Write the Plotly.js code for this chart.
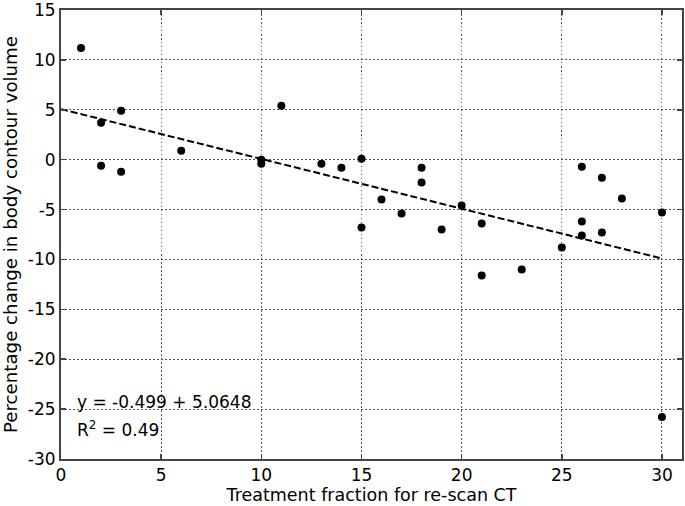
<!DOCTYPE html>
<html>
<head>
<meta charset="utf-8">
<script src="https://cdn.plot.ly/plotly-3.0.1.min.js"></script>
<style>html,body{margin:0;padding:0;background:#fff;}</style>
</head>
<body>
<div id="chart" style="width:685px;height:506px;"></div>
<script>
// Treatment fraction for re-scan CT
const fraction = [1, 2, 2, 3, 3, 6, 10, 10, 11, 13, 14, 15, 15, 16, 17, 18, 18, 19, 20, 21, 21, 23, 25, 26, 26, 26, 27, 27, 28, 30, 30];
// Percentage change in body contour volume
const pctChange = [11.2, 3.7, -0.6, 4.9, -1.2, 0.9, 0.0, -0.4, 5.4, -0.4, -0.8, 0.1, -6.8, -4.0, -5.4, -0.8, -2.3, -7.0, -4.6, -6.4, -11.6, -11.0, -8.8, -0.7, -6.2, -7.6, -1.8, -7.3, -3.9, -5.3, -25.8];
// Linear fit
const fitSlope = -0.499;
const fitIntercept = 5.0648;
const fitRange = [0, 30];
const xTicks = [0, 5, 10, 15, 20, 25, 30];
const yTicks = [-30, -25, -20, -15, -10, -5, 0, 5, 10, 15];

const fitY = fitRange.map(x => fitSlope * x + fitIntercept);

const FONT = 'DejaVu Sans, Arial, sans-serif';

const traces = [
  {
    x: fitRange, y: fitY, type: 'scatter', mode: 'lines',
    line: {color: '#000', width: 2, dash: '7px,3px'},
    hoverinfo: 'skip', showlegend: false
  },
  {
    x: fraction, y: pctChange, type: 'scatter', mode: 'markers',
    marker: {color: '#000', size: 8},
    showlegend: false
  }
];

const axisCommon = {
  showline: true, linecolor: '#444', linewidth: 2, mirror: 'ticks',
  ticks: 'inside', ticklen: 5, tickcolor: '#444', tickwidth: 1.5,
  showgrid: true, gridcolor: '#555', gridwidth: 1, griddash: '1.5px,2.5px',
  zeroline: false, ticklabeloverflow: 'allow',
  tickfont: {family: FONT, size: 17, color: '#000'}
};

const layout = {
  width: 685, height: 506,
  margin: {l: 61, r: 3, t: 10, b: 47},
  paper_bgcolor: '#fff', plot_bgcolor: '#fff',
  xaxis: Object.assign({}, axisCommon, {
    range: [0, 31], tickvals: xTicks, ticktext: xTicks.map(String),
    title: {text: 'Treatment fraction for re-scan CT', font: {family: FONT, size: 17.5, color: '#000'}, standoff: 3}
  }),
  yaxis: Object.assign({}, axisCommon, {
    range: [-30, 15], tickvals: yTicks, ticktext: yTicks.map(String),
    title: {text: 'Percentage change in body contour volume', font: {family: FONT, size: 18.2, color: '#000'}, standoff: 5}
  }),
  annotations: [
    {xref: 'x', yref: 'y', x: 0.7, y: -24.3, xanchor: 'left', yanchor: 'middle', showarrow: false,
     text: 'y = -0.499 + 5.0648', font: {family: FONT, size: 17, color: '#000'}},
    {xref: 'x', yref: 'y', x: 0.7, y: -27.0, xanchor: 'left', yanchor: 'middle', showarrow: false,
     text: 'R<sup>2</sup> = 0.49', font: {family: FONT, size: 17, color: '#000'}}
  ]
};

Plotly.newPlot('chart', traces, layout, {displayModeBar: false, staticPlot: true});
</script>
</body>
</html>
